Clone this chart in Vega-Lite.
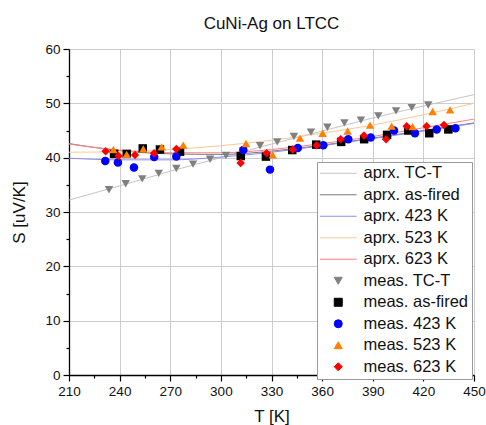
{
  "$schema": "https://vega.github.io/schema/vega-lite/v6.json",
  "width": 405,
  "height": 326,
  "autosize": {"type": "none"},
  "padding": {"left": 69, "top": 49, "right": 12, "bottom": 50},
  "background": "white",
  "title": {"text": "CuNi-Ag on LTCC", "font": "Liberation Sans", "fontSize": 17, "fontWeight": "normal", "color": "#111111", "offset": 9, "anchor": "middle"},
  "config": {"view": {"stroke": null}, "font": "Liberation Sans"},
  "data": {"values": [
    {"series": "aprx. TC-T", "kind": "aprx", "T": 210, "S": 32.2},
    {"series": "aprx. TC-T", "kind": "aprx", "T": 240, "S": 34.8},
    {"series": "aprx. TC-T", "kind": "aprx", "T": 270, "S": 37.5},
    {"series": "aprx. TC-T", "kind": "aprx", "T": 300, "S": 40.0},
    {"series": "aprx. TC-T", "kind": "aprx", "T": 330, "S": 42.5},
    {"series": "aprx. TC-T", "kind": "aprx", "T": 360, "S": 44.9},
    {"series": "aprx. TC-T", "kind": "aprx", "T": 390, "S": 47.3},
    {"series": "aprx. TC-T", "kind": "aprx", "T": 420, "S": 49.5},
    {"series": "aprx. TC-T", "kind": "aprx", "T": 450, "S": 51.6},
    {"series": "aprx. as-fired", "kind": "aprx", "T": 210, "S": 42.6},
    {"series": "aprx. as-fired", "kind": "aprx", "T": 240, "S": 41.3},
    {"series": "aprx. as-fired", "kind": "aprx", "T": 270, "S": 40.7},
    {"series": "aprx. as-fired", "kind": "aprx", "T": 300, "S": 40.6},
    {"series": "aprx. as-fired", "kind": "aprx", "T": 330, "S": 41.2},
    {"series": "aprx. as-fired", "kind": "aprx", "T": 360, "S": 42.3},
    {"series": "aprx. as-fired", "kind": "aprx", "T": 390, "S": 43.6},
    {"series": "aprx. as-fired", "kind": "aprx", "T": 420, "S": 45.0},
    {"series": "aprx. as-fired", "kind": "aprx", "T": 450, "S": 46.4},
    {"series": "aprx. 423 K", "kind": "aprx", "T": 210, "S": 39.9},
    {"series": "aprx. 423 K", "kind": "aprx", "T": 240, "S": 39.6},
    {"series": "aprx. 423 K", "kind": "aprx", "T": 270, "S": 39.6},
    {"series": "aprx. 423 K", "kind": "aprx", "T": 300, "S": 40.1},
    {"series": "aprx. 423 K", "kind": "aprx", "T": 330, "S": 41.0},
    {"series": "aprx. 423 K", "kind": "aprx", "T": 360, "S": 42.2},
    {"series": "aprx. 423 K", "kind": "aprx", "T": 390, "S": 43.5},
    {"series": "aprx. 423 K", "kind": "aprx", "T": 420, "S": 44.9},
    {"series": "aprx. 423 K", "kind": "aprx", "T": 450, "S": 46.3},
    {"series": "aprx. 523 K", "kind": "aprx", "T": 210, "S": 41.0},
    {"series": "aprx. 523 K", "kind": "aprx", "T": 240, "S": 41.1},
    {"series": "aprx. 523 K", "kind": "aprx", "T": 270, "S": 41.5},
    {"series": "aprx. 523 K", "kind": "aprx", "T": 300, "S": 42.2},
    {"series": "aprx. 523 K", "kind": "aprx", "T": 330, "S": 43.2},
    {"series": "aprx. 523 K", "kind": "aprx", "T": 360, "S": 44.5},
    {"series": "aprx. 523 K", "kind": "aprx", "T": 390, "S": 46.0},
    {"series": "aprx. 523 K", "kind": "aprx", "T": 420, "S": 47.9},
    {"series": "aprx. 523 K", "kind": "aprx", "T": 450, "S": 50.0},
    {"series": "aprx. 623 K", "kind": "aprx", "T": 210, "S": 42.5},
    {"series": "aprx. 623 K", "kind": "aprx", "T": 240, "S": 41.4},
    {"series": "aprx. 623 K", "kind": "aprx", "T": 270, "S": 40.9},
    {"series": "aprx. 623 K", "kind": "aprx", "T": 300, "S": 40.9},
    {"series": "aprx. 623 K", "kind": "aprx", "T": 330, "S": 41.5},
    {"series": "aprx. 623 K", "kind": "aprx", "T": 360, "S": 42.6},
    {"series": "aprx. 623 K", "kind": "aprx", "T": 390, "S": 43.9},
    {"series": "aprx. 623 K", "kind": "aprx", "T": 420, "S": 45.5},
    {"series": "aprx. 623 K", "kind": "aprx", "T": 450, "S": 47.1},
    {"series": "meas. TC-T", "kind": "meas", "T": 233.7, "S": 34.1},
    {"series": "meas. TC-T", "kind": "meas", "T": 243.6, "S": 35.2},
    {"series": "meas. TC-T", "kind": "meas", "T": 253.4, "S": 36.1},
    {"series": "meas. TC-T", "kind": "meas", "T": 263.2, "S": 37.1},
    {"series": "meas. TC-T", "kind": "meas", "T": 273.6, "S": 38.0},
    {"series": "meas. TC-T", "kind": "meas", "T": 283.5, "S": 38.8},
    {"series": "meas. TC-T", "kind": "meas", "T": 293.6, "S": 39.7},
    {"series": "meas. TC-T", "kind": "meas", "T": 303.0, "S": 40.4},
    {"series": "meas. TC-T", "kind": "meas", "T": 313.3, "S": 41.3},
    {"series": "meas. TC-T", "kind": "meas", "T": 323.2, "S": 42.2},
    {"series": "meas. TC-T", "kind": "meas", "T": 333.4, "S": 42.9},
    {"series": "meas. TC-T", "kind": "meas", "T": 343.3, "S": 43.9},
    {"series": "meas. TC-T", "kind": "meas", "T": 353.4, "S": 44.7},
    {"series": "meas. TC-T", "kind": "meas", "T": 363.1, "S": 45.6},
    {"series": "meas. TC-T", "kind": "meas", "T": 373.2, "S": 46.4},
    {"series": "meas. TC-T", "kind": "meas", "T": 383.0, "S": 46.9},
    {"series": "meas. TC-T", "kind": "meas", "T": 393.3, "S": 47.7},
    {"series": "meas. TC-T", "kind": "meas", "T": 403.8, "S": 48.6},
    {"series": "meas. TC-T", "kind": "meas", "T": 413.1, "S": 49.2},
    {"series": "meas. TC-T", "kind": "meas", "T": 422.9, "S": 49.7},
    {"series": "meas. as-fired", "kind": "meas", "T": 236.7, "S": 40.7},
    {"series": "meas. as-fired", "kind": "meas", "T": 244.2, "S": 40.7},
    {"series": "meas. as-fired", "kind": "meas", "T": 253.7, "S": 41.7},
    {"series": "meas. as-fired", "kind": "meas", "T": 263.9, "S": 41.5},
    {"series": "meas. as-fired", "kind": "meas", "T": 275.8, "S": 41.1},
    {"series": "meas. as-fired", "kind": "meas", "T": 311.8, "S": 40.3},
    {"series": "meas. as-fired", "kind": "meas", "T": 326.7, "S": 40.2},
    {"series": "meas. as-fired", "kind": "meas", "T": 342.3, "S": 41.4},
    {"series": "meas. as-fired", "kind": "meas", "T": 356.5, "S": 42.4},
    {"series": "meas. as-fired", "kind": "meas", "T": 371.3, "S": 42.9},
    {"series": "meas. as-fired", "kind": "meas", "T": 384.9, "S": 43.4},
    {"series": "meas. as-fired", "kind": "meas", "T": 398.5, "S": 44.2},
    {"series": "meas. as-fired", "kind": "meas", "T": 411.0, "S": 45.0},
    {"series": "meas. as-fired", "kind": "meas", "T": 423.5, "S": 44.5},
    {"series": "meas. as-fired", "kind": "meas", "T": 434.8, "S": 45.2},
    {"series": "meas. 423 K", "kind": "meas", "T": 231.5, "S": 39.4},
    {"series": "meas. 423 K", "kind": "meas", "T": 239.0, "S": 39.1},
    {"series": "meas. 423 K", "kind": "meas", "T": 248.5, "S": 38.2},
    {"series": "meas. 423 K", "kind": "meas", "T": 260.5, "S": 40.1},
    {"series": "meas. 423 K", "kind": "meas", "T": 273.6, "S": 40.2},
    {"series": "meas. 423 K", "kind": "meas", "T": 313.3, "S": 41.4},
    {"series": "meas. 423 K", "kind": "meas", "T": 329.1, "S": 37.8},
    {"series": "meas. 423 K", "kind": "meas", "T": 345.6, "S": 41.8},
    {"series": "meas. 423 K", "kind": "meas", "T": 360.7, "S": 42.3},
    {"series": "meas. 423 K", "kind": "meas", "T": 375.5, "S": 43.4},
    {"series": "meas. 423 K", "kind": "meas", "T": 388.8, "S": 43.7},
    {"series": "meas. 423 K", "kind": "meas", "T": 402.6, "S": 45.0},
    {"series": "meas. 423 K", "kind": "meas", "T": 415.0, "S": 44.5},
    {"series": "meas. 423 K", "kind": "meas", "T": 427.9, "S": 45.2},
    {"series": "meas. 423 K", "kind": "meas", "T": 439.0, "S": 45.4},
    {"series": "meas. 523 K", "kind": "meas", "T": 236.3, "S": 41.5},
    {"series": "meas. 523 K", "kind": "meas", "T": 244.2, "S": 40.6},
    {"series": "meas. 523 K", "kind": "meas", "T": 254.0, "S": 41.6},
    {"series": "meas. 523 K", "kind": "meas", "T": 264.9, "S": 42.0},
    {"series": "meas. 523 K", "kind": "meas", "T": 277.7, "S": 42.3},
    {"series": "meas. 523 K", "kind": "meas", "T": 314.9, "S": 42.6},
    {"series": "meas. 523 K", "kind": "meas", "T": 330.7, "S": 40.5},
    {"series": "meas. 523 K", "kind": "meas", "T": 346.9, "S": 43.6},
    {"series": "meas. 523 K", "kind": "meas", "T": 360.3, "S": 44.5},
    {"series": "meas. 523 K", "kind": "meas", "T": 375.1, "S": 44.9},
    {"series": "meas. 523 K", "kind": "meas", "T": 388.4, "S": 46.0},
    {"series": "meas. 523 K", "kind": "meas", "T": 401.2, "S": 45.8},
    {"series": "meas. 523 K", "kind": "meas", "T": 413.6, "S": 45.7},
    {"series": "meas. 523 K", "kind": "meas", "T": 425.5, "S": 48.5},
    {"series": "meas. 523 K", "kind": "meas", "T": 435.8, "S": 48.8},
    {"series": "meas. 623 K", "kind": "meas", "T": 231.7, "S": 41.2},
    {"series": "meas. 623 K", "kind": "meas", "T": 239.4, "S": 40.3},
    {"series": "meas. 623 K", "kind": "meas", "T": 249.1, "S": 40.5},
    {"series": "meas. 623 K", "kind": "meas", "T": 260.4, "S": 40.8},
    {"series": "meas. 623 K", "kind": "meas", "T": 273.6, "S": 41.6},
    {"series": "meas. 623 K", "kind": "meas", "T": 311.7, "S": 39.0},
    {"series": "meas. 623 K", "kind": "meas", "T": 327.1, "S": 40.8},
    {"series": "meas. 623 K", "kind": "meas", "T": 342.6, "S": 41.5},
    {"series": "meas. 623 K", "kind": "meas", "T": 356.8, "S": 42.3},
    {"series": "meas. 623 K", "kind": "meas", "T": 371.0, "S": 43.4},
    {"series": "meas. 623 K", "kind": "meas", "T": 384.8, "S": 44.1},
    {"series": "meas. 623 K", "kind": "meas", "T": 397.9, "S": 43.4},
    {"series": "meas. 623 K", "kind": "meas", "T": 410.1, "S": 45.8},
    {"series": "meas. 623 K", "kind": "meas", "T": 421.9, "S": 45.8},
    {"series": "meas. 623 K", "kind": "meas", "T": 432.2, "S": 46.0}
  ]},
  "encoding": {
    "x": {"field": "T", "type": "quantitative",
      "scale": {"domain": [210, 450], "nice": false, "zero": false},
      "axis": {"title": "T [K]",
        "values": [210, 225, 240, 255, 270, 285, 300, 315, 330, 345, 360, 375, 390, 405, 420, 435, 450],
        "labelExpr": "datum.value % 30 === 0 ? datum.label : ''",
        "grid": true, "gridColor": "#cccccc",
        "gridOpacity": {"condition": {"test": "datum.value % 30 === 0", "value": 1}, "value": 0},
        "tickSize": {"condition": {"test": "datum.value % 30 === 0", "value": 6}, "value": 3},
        "tickColor": "#000000", "tickWidth": 1.2, "domainColor": "#000000", "domainWidth": 1.3,
        "labelFont": "Liberation Sans", "labelFontSize": 13.5, "labelColor": "#111111", "labelPadding": 3,
        "labelFlush": false, "labelOverlap": false,
        "titleFont": "Liberation Sans", "titleFontSize": 17, "titleFontWeight": "normal", "titleColor": "#111111", "titlePadding": 11}},
    "y": {"field": "S", "type": "quantitative",
      "scale": {"domain": [0, 60], "nice": false},
      "axis": {"title": "S [uV/K]",
        "values": [0, 5, 10, 15, 20, 25, 30, 35, 40, 45, 50, 55, 60],
        "labelExpr": "datum.value % 10 === 0 ? datum.label : ''",
        "grid": true, "gridColor": "#cccccc",
        "gridOpacity": {"condition": {"test": "datum.value % 10 === 0", "value": 1}, "value": 0},
        "tickSize": {"condition": {"test": "datum.value % 10 === 0", "value": 6}, "value": 3},
        "tickColor": "#000000", "tickWidth": 1.2, "domainColor": "#000000", "domainWidth": 1.3,
        "labelFont": "Liberation Sans", "labelFontSize": 13.5, "labelColor": "#111111", "labelPadding": 3,
        "labelFlush": false, "labelOverlap": false,
        "titleFont": "Liberation Sans", "titleFontSize": 17, "titleFontWeight": "normal", "titleColor": "#111111", "titlePadding": 16}}
  },
  "layer": [
    {
      "transform": [{"filter": "datum.kind === 'aprx'"}],
      "mark": {"type": "line", "strokeWidth": 1, "interpolate": "monotone", "clip": true},
      "encoding": {
        "color": {"field": "series", "type": "nominal",
          "scale": {
            "domain": ["aprx. TC-T", "aprx. as-fired", "aprx. 423 K", "aprx. 523 K", "aprx. 623 K", "meas. TC-T", "meas. as-fired", "meas. 423 K", "meas. 523 K", "meas. 623 K"],
            "range": ["#c4c4c4", "#7a7a7a", "#8c8cff", "#ffc896", "#ff8080", "#808080", "#000000", "#0000ff", "#ff8000", "#ff0000"]},
          "legend": {"title": null, "orient": "none", "legendX": 248, "legendY": 113, "padding": 3,
            "strokeColor": "#9a9a9a", "fillColor": "white",
            "labelFont": "Liberation Sans", "labelFontSize": 16.5, "labelColor": "#111111", "labelLimit": 250,
            "labelOffset": 17, "symbolOffset": 10, "rowPadding": 4.5, "symbolSize": 64, "symbolStrokeWidth": 1,
            "encode": {"symbols": {"update": {
              "fill": {"scale": "color", "field": "value"},
              "stroke": {"scale": "color", "field": "value"},
              "shape": {"scale": "shape", "field": "value"},
              "size": {"value": 64},
              "strokeWidth": {"value": 1},
              "opacity": {"value": 1}}}}}
        }
      }
    },
    {
      "transform": [{"filter": "datum.kind === 'meas'"}],
      "mark": {"type": "point", "filled": true, "opacity": 1, "size": 72},
      "encoding": {
        "color": {"field": "series", "type": "nominal",
          "scale": {
            "domain": ["aprx. TC-T", "aprx. as-fired", "aprx. 423 K", "aprx. 523 K", "aprx. 623 K", "meas. TC-T", "meas. as-fired", "meas. 423 K", "meas. 523 K", "meas. 623 K"],
            "range": ["#c4c4c4", "#7a7a7a", "#8c8cff", "#ffc896", "#ff8080", "#808080", "#000000", "#0000ff", "#ff8000", "#ff0000"]},
          "legend": {"title": null, "orient": "none", "legendX": 248, "legendY": 113, "padding": 3,
            "strokeColor": "#9a9a9a", "fillColor": "white",
            "labelFont": "Liberation Sans", "labelFontSize": 16.5, "labelColor": "#111111", "labelLimit": 250,
            "labelOffset": 17, "symbolOffset": 10, "rowPadding": 4.5, "symbolSize": 64, "symbolStrokeWidth": 1,
            "encode": {"symbols": {"update": {
              "fill": {"scale": "color", "field": "value"},
              "stroke": {"scale": "color", "field": "value"},
              "shape": {"scale": "shape", "field": "value"},
              "size": {"value": 64},
              "strokeWidth": {"value": 1},
              "opacity": {"value": 1}}}}}
        },
        "shape": {"field": "series", "type": "nominal",
          "scale": {
            "domain": ["aprx. TC-T", "aprx. as-fired", "aprx. 423 K", "aprx. 523 K", "aprx. 623 K", "meas. TC-T", "meas. as-fired", "meas. 423 K", "meas. 523 K", "meas. 623 K"],
            "range": ["M-4.6,0L4.6,0", "M-4.6,0L4.6,0", "M-4.6,0L4.6,0", "M-4.6,0L4.6,0", "M-4.6,0L4.6,0", "triangle-down", "square", "circle", "triangle-up", "diamond"]},
          "legend": {"title": null, "orient": "none", "legendX": 248, "legendY": 113, "padding": 3,
            "strokeColor": "#9a9a9a", "fillColor": "white",
            "labelFont": "Liberation Sans", "labelFontSize": 16.5, "labelColor": "#111111", "labelLimit": 250,
            "labelOffset": 17, "symbolOffset": 10, "rowPadding": 4.5, "symbolSize": 64, "symbolStrokeWidth": 1}
        }
      }
    }
  ]
}
